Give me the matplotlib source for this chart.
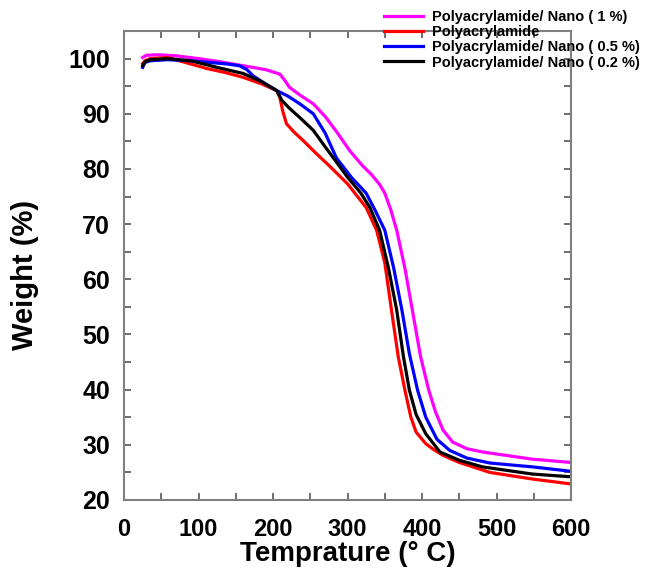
import numpy as np
import matplotlib
matplotlib.use("Agg")
import matplotlib.pyplot as plt
from matplotlib.ticker import MultipleLocator

plt.rcParams['font.family'] = ['Liberation Sans', 'DejaVu Sans']
plt.rcParams['font.weight'] = 'bold'

# TGA curves (temperature in C, weight in %)
t_nano1 = [25, 30, 45, 70, 100, 130, 160, 190, 209, 216, 222, 235, 254, 270, 285, 303, 320, 332, 343, 350,
           358, 366, 377, 387, 398, 409, 418, 428, 441, 460, 481, 548, 600]
w_nano1 = [100.2, 100.6, 100.7, 100.5, 100.0, 99.4, 98.7, 98.0, 97.2, 96.0, 94.8, 93.5, 91.8, 89.5, 86.8,
           83.3, 80.6, 79.0, 77.2, 75.6, 72.6, 68.9, 62.0, 54.4, 46.0, 39.9, 36.0, 32.7, 30.5, 29.3, 28.7,
           27.4, 26.8]

t_pam = [25, 28, 35, 58, 85, 111, 135, 160, 185, 205, 209, 213, 218, 228, 240, 258, 276, 300, 325, 339,
         350, 359, 368, 377, 385, 392, 405, 415, 428, 450, 491, 548, 600]
w_pam = [99.1, 99.6, 100.0, 100.2, 99.2, 98.2, 97.5, 96.6, 95.4, 94.2, 93.0, 90.5, 88.2, 86.7, 85.2, 82.8,
         80.5, 77.3, 73.0, 68.9, 63.0, 54.4, 46.0, 39.9, 35.0, 32.3, 30.2, 29.2, 28.1, 26.8, 25.0, 23.8, 22.9]

t_nano05 = [25, 28, 35, 58, 90, 115, 140, 155, 165, 173, 190, 205, 220, 236, 254, 270, 285, 305, 325, 337,
            350, 362, 373, 383, 394, 405, 420, 437, 460, 491, 548, 600]
w_nano05 = [98.4, 99.3, 99.6, 99.8, 99.6, 99.3, 99.0, 98.7, 98.0, 96.9, 95.4, 94.2, 93.2, 91.8, 90.0, 86.5,
            82.0, 78.5, 75.6, 72.5, 68.9, 62.0, 54.4, 46.5, 39.9, 35.0, 31.0, 29.0, 27.6, 26.7, 26.0, 25.2]

t_nano02 = [25, 28, 35, 58, 90, 125, 160, 185, 205, 212, 222, 236, 254, 270, 281, 300, 318, 330, 343, 355,
            366, 375, 383, 392, 405, 424, 450, 481, 548, 600]
w_nano02 = [98.7, 99.4, 99.8, 100.0, 99.6, 98.4, 97.3, 95.8, 94.2, 92.4, 91.0, 89.3, 87.0, 84.0, 82.0, 78.5,
            75.6, 73.0, 68.9, 62.0, 54.4, 46.0, 39.9, 35.5, 32.0, 28.7, 27.2, 26.0, 24.7, 24.2]

labels = ["Polyacrylamide/ Nano ( 1 %)", "Polyacrylamide",
          "Polyacrylamide/ Nano ( 0.5 %)", "Polyacrylamide/ Nano ( 0.2 %)"]
colors = ["#ff00ff", "#ff0000", "#0000ff", "#000000"]

fig = plt.figure(figsize=(6.46, 5.69), dpi=100)
ax = fig.add_axes([0.192, 0.1213, 0.692, 0.8242])

series = [(t_nano1, w_nano1), (t_pam, w_pam), (t_nano05, w_nano05), (t_nano02, w_nano02)]
lines = []
for (t, w), c, lab in zip(series, colors, labels):
    ln, = ax.plot(t, w, color=c, lw=2.3, label=lab, solid_joinstyle='round')
    lines.append(ln)

ax.set_xlim(0, 600)
ax.set_ylim(20, 105)
ax.set_xticks(np.arange(0, 601, 100))
ax.set_yticks(np.arange(20, 101, 10))
ax.xaxis.set_minor_locator(MultipleLocator(50))
ax.yaxis.set_minor_locator(MultipleLocator(5))
ax.tick_params(which='both', direction='in', top=True, right=True, length=5, width=1.2,
               color='#555555')
ax.tick_params(axis='x', pad=13, labelsize=17)
ax.tick_params(axis='y', pad=10, labelsize=18)
for s in ax.spines.values():
    s.set_color('#808080')
    s.set_linewidth(1.5)
for lab in ax.get_xticklabels() + ax.get_yticklabels():
    lab.set_fontweight('bold')

ax.set_xlabel("Temprature (° C)", fontsize=20, fontweight='bold')
ax.set_ylabel("Weight (%)", fontsize=21, fontweight='bold')
ax.xaxis.set_label_coords(0.5, -0.088)
ax.yaxis.set_label_coords(-0.19, 0.48)

fig.legend(handles=lines, loc='upper left', bbox_to_anchor=(384 / 646, 1 - 10 / 569),
           frameon=False, prop={'weight': 'bold', 'size': 10.5},
           handlelength=2.7, handletextpad=0.62, labelspacing=0.08, borderpad=0,
           borderaxespad=0)

fig.savefig("out.png", dpi=100)
